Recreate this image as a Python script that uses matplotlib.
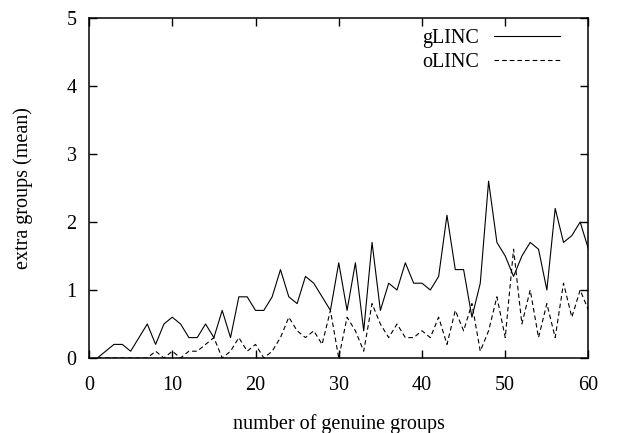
import matplotlib
matplotlib.use("Agg")
import matplotlib.pyplot as plt
import numpy as np

# Data
groups = list(range(1, 61))
glinc = [0.0, 0.1, 0.2, 0.2, 0.1, 0.3, 0.5, 0.2, 0.5, 0.6,
         0.5, 0.3, 0.3, 0.5, 0.3, 0.7, 0.3, 0.9, 0.9, 0.7,
         0.7, 0.9, 1.3, 0.9, 0.8, 1.2, 1.1, 0.9, 0.7, 1.4,
         0.7, 1.4, 0.4, 1.7, 0.7, 1.1, 1.0, 1.4, 1.1, 1.1,
         1.0, 1.2, 2.1, 1.3, 1.3, 0.6, 1.1, 2.6, 1.7, 1.5,
         1.2, 1.5, 1.7, 1.6, 1.0, 2.2, 1.7, 1.8, 2.0, 1.6]
olinc = [0.0, 0.0, 0.0, 0.0, 0.0, 0.0, 0.0, 0.1, 0.0, 0.1,
         0.0, 0.1, 0.1, 0.2, 0.3, 0.0, 0.1, 0.3, 0.1, 0.2,
         0.0, 0.1, 0.3, 0.6, 0.4, 0.3, 0.4, 0.2, 0.7, 0.0,
         0.6, 0.4, 0.1, 0.8, 0.5, 0.3, 0.5, 0.3, 0.3, 0.4,
         0.3, 0.6, 0.2, 0.7, 0.4, 0.8, 0.1, 0.4, 0.9, 0.3,
         1.6, 0.5, 1.0, 0.3, 0.8, 0.3, 1.1, 0.6, 1.0, 0.7]
xticks = [0, 10, 20, 30, 40, 50, 60]
yticks = [0, 1, 2, 3, 4, 5]

plt.rcParams['font.family'] = ['Liberation Serif', 'DejaVu Serif']
plt.rcParams['lines.scale_dashes'] = False
FS = 14.5

fig = plt.figure(figsize=(6.19, 4.33), dpi=100)
ax = fig.add_axes([0.1438, 0.1732, 0.9507 - 0.1438, 0.9584 - 0.1732])

ax.plot(groups, glinc, color='black', lw=0.8, label='gLINC')
ax.plot(groups, olinc, color='black', lw=0.8, linestyle=(0, (3.3, 2.2)), label='oLINC')

ax.set_xlim(0, 60)
ax.set_ylim(0, 5)
ax.set_xticks(xticks)
ax.set_yticks(yticks)
ax.tick_params(direction='in', length=5.5, width=1.0, top=True, right=True,
               labelsize=FS, color='black')
ax.tick_params(axis='x', pad=13)
ax.tick_params(axis='y', pad=9)
for s in ax.spines.values():
    s.set_linewidth(1.1)

ax.set_xlabel('number of genuine groups', fontsize=FS, labelpad=14)
ax.set_ylabel('extra groups (mean)', fontsize=FS, labelpad=24)

leg = ax.legend(loc='upper right', bbox_to_anchor=(0.943, 0.967), frameon=False,
                markerfirst=False, fontsize=FS, handlelength=3.3,
                handletextpad=0.7, labelspacing=0.25, borderpad=0, borderaxespad=0)

fig.savefig('out.png', dpi=100)
